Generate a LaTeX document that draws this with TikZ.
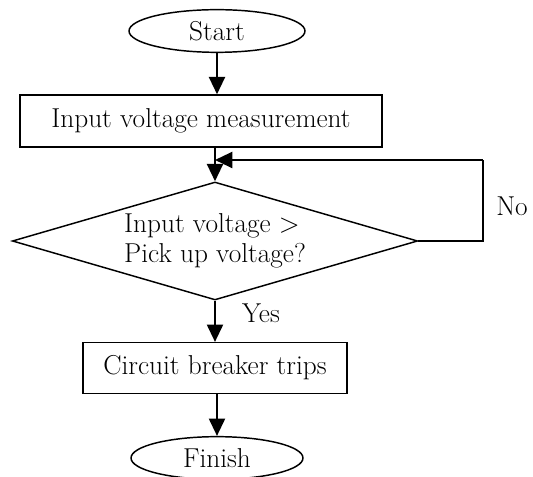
\documentclass[tikz,border=0pt]{standalone}
\usepackage{tikz}
\usetikzlibrary{arrows.meta, positioning, shapes.geometric, calc}

\begin{document}
\begin{tikzpicture}[x=0.75pt, y=-0.75pt,
    every node/.style={font=\fontsize{20.5}{22.5}\selectfont, inner sep=0pt},
    terminal/.style={draw, ellipse, line width=1.1pt},
    process/.style={draw, rectangle, line width=1.1pt},
    decision/.style={draw, diamond, aspect=3.4, line width=1.1pt, align=left},
    flow/.style={line width=1.6pt, -{Triangle[length=13pt, width=12pt]}},
    plain/.style={line width=1.1pt}]
  \useasboundingbox (0,0) rectangle (533,477);
  % Main column
  \node[terminal, minimum width=132pt, minimum height=32pt] (start) at (217,31) {Start};
  \node[process, minimum width=271.5pt, minimum height=39pt] (meas) at (201,121) {Input voltage measurement};
  \node[decision, minimum width=304pt, minimum height=88.5pt] (dec) at (215,241)
    {Input voltage >\\Pick up voltage?};
  \node[process, minimum width=198pt, minimum height=38pt] (trip) at (215,368) {Circuit breaker trips};
  \node[terminal, minimum width=129pt, minimum height=32pt] (finish) at (217,458) {Finish};
  % Branch labels
  \node (yes) at (261,313) {Yes};
  \node (no) at (512,206) {No};
  % Connectors
  \draw[flow] (start.south) -- (start.south |- meas.north);
  \draw[flow] (meas.south -| dec.north) -- (dec.north);
  \draw[flow] (dec.south) -- (trip.north -| dec.south);
  \draw[flow] (trip.south -| finish.north) -- (finish.north);
  % Feedback loop
  \coordinate (loop) at (483,160);
  \draw[plain] (dec.east) -| (loop);
  \draw[flow] (loop) -- (loop -| dec.north);
\end{tikzpicture}
\end{document}
